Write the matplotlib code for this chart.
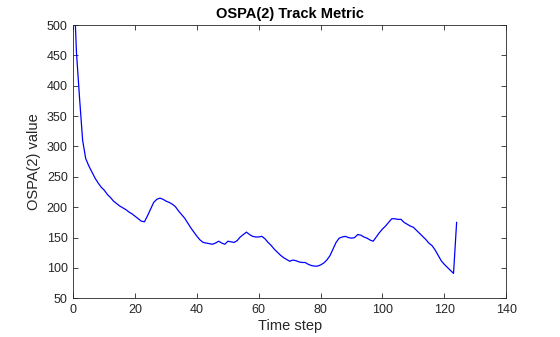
import matplotlib.pyplot as plt

# Time steps and OSPA(2) values
time_step = list(range(0, 125))
ospa = [585, 455, 380, 310, 280, 268, 258, 248, 240, 233,
        228, 221, 216, 210, 206, 202, 199, 196, 192, 189,
        185, 181, 177, 176, 186, 197, 208, 213, 215, 213,
        210, 208, 205, 201, 194, 188, 182, 174, 166, 159,
        152, 146, 142, 141, 140, 139, 141, 144, 141, 139,
        144, 143, 142, 145, 151, 155, 159, 155, 152, 151,
        151, 152, 148, 142, 137, 131, 126, 121, 117, 114,
        111, 113, 112, 110, 109, 109, 106, 104, 103, 103,
        105, 108, 113, 120, 131, 142, 149, 151, 152, 150,
        149, 150, 155, 154, 151, 149, 146, 144, 151, 158,
        164, 169, 175, 181, 181, 180, 180, 175, 172, 169,
        167, 162, 157, 152, 147, 141, 137, 130, 121, 112,
        106, 101, 96, 91, 175]

xticks = [0, 20, 40, 60, 80, 100, 120, 140]
yticks = [50, 100, 150, 200, 250, 300, 350, 400, 450, 500]

plt.rcParams['font.family'] = ['Liberation Sans', 'DejaVu Sans']
dark = '#262626'

fig = plt.figure(figsize=(5.6, 3.37), dpi=100)
ax = fig.add_axes([0.131, 0.1148, 0.7727, 0.811])

ax.plot(time_step, ospa, color='#0000ff', linewidth=0.9)

ax.set_xlim(0, 140)
ax.set_ylim(50, 500)
ax.set_xticks(xticks)
ax.set_yticks(yticks)
ax.tick_params(direction='in', top=True, right=True, length=3.5,
               width=0.6, labelsize=9, colors=dark, pad=4)
for sp in ax.spines.values():
    sp.set_linewidth(0.6)
    sp.set_color(dark)

ax.set_xlabel('Time step', fontsize=10.5, color=dark, labelpad=2)
ax.set_ylabel('OSPA(2) value', fontsize=10.5, color=dark, labelpad=4)
ax.set_title('OSPA(2) Track Metric', fontsize=10.5, fontweight='bold',
             color='black', pad=5)

fig.savefig('out.png', dpi=100)
